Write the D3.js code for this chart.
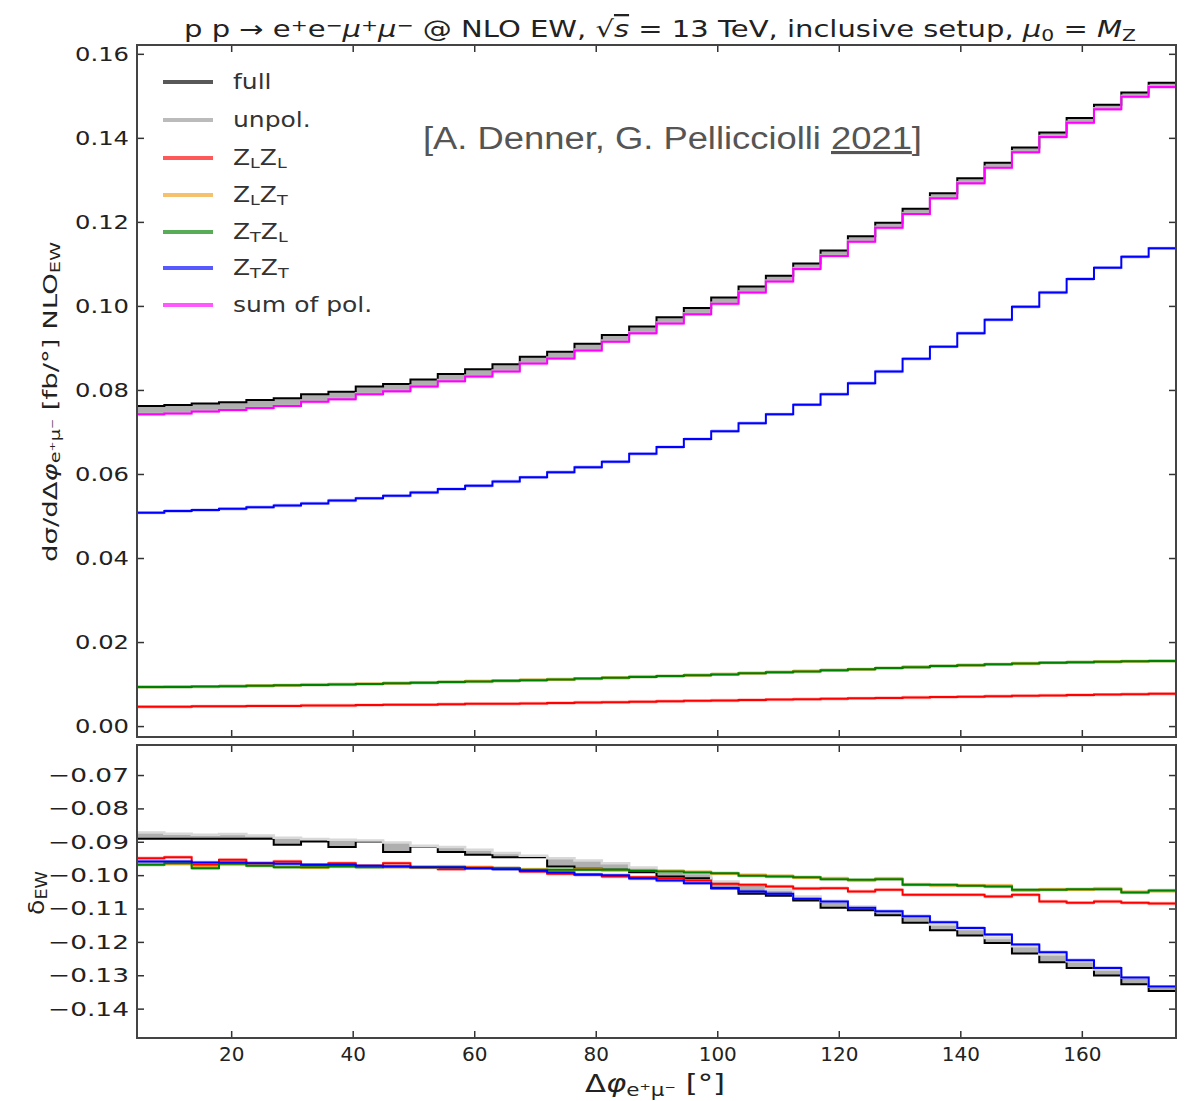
<!DOCTYPE html>
<html><head><meta charset="utf-8">
<script src="https://cdn.jsdelivr.net/npm/d3@7"></script>
<style>body{margin:0;background:#fff} svg{display:block}</style>
</head><body><svg id="c" width="1190" height="1101" font-family="DejaVu Sans, sans-serif"></svg>
<script>
// ---------- data ----------
const binEdges=[4.5,9,13.5,18,22.5,27,31.5,36,40.5,45,49.5,54,58.5,63,67.5,72,76.5,81,85.5,90,94.5,99,103.5,108,112.5,117,121.5,126,130.5,135,139.5,144,148.5,153,157.5,162,166.5,171,175.5];

const fullTop=[0.0762,0.0764,0.0768,0.0771,0.0776,0.0780,0.0790,0.0796,0.0808,0.0814,0.0825,0.0838,0.0849,0.0861,0.0879,0.0891,0.0910,0.0931,0.0951,0.0973,0.0995,0.1020,0.1046,0.1072,0.1101,0.1132,0.1166,0.1198,0.1231,0.1268,0.1304,0.1341,0.1377,0.1413,0.1447,0.1479,0.1508,0.1531];
const unpolTop=[0.0745,0.0747,0.0752,0.0755,0.0760,0.0765,0.0775,0.0781,0.0793,0.0800,0.0811,0.0824,0.0835,0.0847,0.0866,0.0878,0.0897,0.0918,0.0938,0.0961,0.0983,0.1008,0.1035,0.1061,0.1091,0.1122,0.1156,0.1189,0.1222,0.1259,0.1295,0.1332,0.1369,0.1405,0.1439,0.1471,0.1501,0.1524];
const sumTop=[0.0742,0.0744,0.0749,0.0752,0.0757,0.0762,0.0772,0.0778,0.0790,0.0797,0.0808,0.0821,0.0832,0.0844,0.0863,0.0875,0.0894,0.0915,0.0935,0.0958,0.0980,0.1005,0.1032,0.1058,0.1088,0.1119,0.1153,0.1186,0.1219,0.1256,0.1292,0.1329,0.1366,0.1402,0.1436,0.1468,0.1498,0.1521];
const zlzlTop=[0.0046,0.0046,0.0047,0.0047,0.0048,0.0048,0.0049,0.0049,0.0050,0.0051,0.0051,0.0052,0.0053,0.0053,0.0054,0.0055,0.0056,0.0057,0.0058,0.0059,0.0060,0.0061,0.0062,0.0063,0.0064,0.0065,0.0066,0.0067,0.0068,0.0069,0.0070,0.0071,0.0072,0.0073,0.0074,0.0075,0.0076,0.0077];
const zlztTop=[0.0093,0.0094,0.0094,0.0095,0.0096,0.0097,0.0099,0.0100,0.0101,0.0102,0.0104,0.0105,0.0107,0.0108,0.0110,0.0111,0.0113,0.0115,0.0118,0.0119,0.0121,0.0124,0.0126,0.0128,0.0131,0.0133,0.0135,0.0138,0.0141,0.0143,0.0145,0.0147,0.0149,0.0151,0.0152,0.0153,0.0154,0.0155];
const ztzlTop=[0.0093,0.0093,0.0094,0.0095,0.0096,0.0097,0.0098,0.0099,0.0100,0.0102,0.0103,0.0105,0.0106,0.0108,0.0109,0.0111,0.0113,0.0115,0.0117,0.0119,0.0121,0.0123,0.0126,0.0128,0.0130,0.0133,0.0135,0.0138,0.0140,0.0143,0.0145,0.0147,0.0149,0.0151,0.0152,0.0153,0.0154,0.0155];
const ztztTop=[0.0508,0.0512,0.0514,0.0517,0.0521,0.0525,0.0530,0.0537,0.0542,0.0548,0.0556,0.0564,0.0572,0.0582,0.0592,0.0604,0.0616,0.0629,0.0648,0.0664,0.0683,0.0702,0.0721,0.0742,0.0765,0.0790,0.0816,0.0844,0.0874,0.0903,0.0935,0.0967,0.0998,0.1032,0.1064,0.1091,0.1117,0.1137];

const fullLow=[-0.0891,-0.0891,-0.0891,-0.0891,-0.0891,-0.0909,-0.0899,-0.0916,-0.0899,-0.0931,-0.0914,-0.0931,-0.0939,-0.0946,-0.0946,-0.0974,-0.0981,-0.0984,-0.0991,-0.1004,-0.1009,-0.1039,-0.1056,-0.1062,-0.1076,-0.1098,-0.1105,-0.1120,-0.1143,-0.1165,-0.1181,-0.1203,-0.1235,-0.1261,-0.1278,-0.1301,-0.1327,-0.1347];
const unpolLow=[-0.0872,-0.0876,-0.0879,-0.0877,-0.0881,-0.0888,-0.0892,-0.0894,-0.0896,-0.0902,-0.0912,-0.0916,-0.0924,-0.0934,-0.0942,-0.0949,-0.0956,-0.0964,-0.0977,-0.0989,-0.0994,-0.1019,-0.1029,-0.1044,-0.1064,-0.1079,-0.1094,-0.1108,-0.1123,-0.1148,-0.1161,-0.1188,-0.1213,-0.1238,-0.1258,-0.1283,-0.1307,-0.1334];
const zlzlLow=[-0.0949,-0.0946,-0.0969,-0.0954,-0.0964,-0.0959,-0.0969,-0.0964,-0.0972,-0.0964,-0.0976,-0.0982,-0.0976,-0.0979,-0.0989,-0.0996,-0.0999,-0.1004,-0.1006,-0.1009,-0.1016,-0.1026,-0.1029,-0.1034,-0.1040,-0.1039,-0.1049,-0.1044,-0.1059,-0.1059,-0.1059,-0.1064,-0.1059,-0.1079,-0.1083,-0.1079,-0.1083,-0.1085];
const zlztLow=[-0.0966,-0.0967,-0.0975,-0.0968,-0.0970,-0.0974,-0.0978,-0.0972,-0.0975,-0.0976,-0.0978,-0.0974,-0.0977,-0.0981,-0.0982,-0.0986,-0.0982,-0.0986,-0.0985,-0.0987,-0.0990,-0.0996,-0.0999,-0.1002,-0.1008,-0.1009,-0.1016,-0.1010,-0.1027,-0.1031,-0.1030,-0.1031,-0.1046,-0.1042,-0.1044,-0.1040,-0.1050,-0.1048];
const ztzlLow=[-0.0969,-0.0964,-0.0979,-0.0966,-0.0972,-0.0976,-0.0976,-0.0974,-0.0976,-0.0974,-0.0976,-0.0976,-0.0979,-0.0979,-0.0984,-0.0984,-0.0984,-0.0984,-0.0987,-0.0989,-0.0992,-0.0994,-0.1002,-0.1004,-0.1006,-0.1012,-0.1014,-0.1012,-0.1029,-0.1029,-0.1032,-0.1034,-0.1044,-0.1044,-0.1042,-0.1042,-0.1052,-0.1046];
const ztztLow=[-0.0959,-0.0959,-0.0962,-0.0962,-0.0964,-0.0966,-0.0969,-0.0969,-0.0972,-0.0974,-0.0976,-0.0976,-0.0979,-0.0982,-0.0987,-0.0992,-0.0998,-0.1000,-0.1010,-0.1016,-0.1024,-0.1039,-0.1049,-0.1056,-0.1071,-0.1079,-0.1098,-0.1108,-0.1123,-0.1141,-0.1158,-0.1178,-0.1208,-0.1231,-0.1255,-0.1278,-0.1307,-0.1334];

const xTicks=[20,40,60,80,100,120,140,160];
const yTopTicks=[0.00,0.02,0.04,0.06,0.08,0.10,0.12,0.14,0.16];
const yLowTicks=[-0.14,-0.13,-0.12,-0.11,-0.10,-0.09,-0.08,-0.07];
const legendLabels=["full","unpol.","Z_LZ_L","Z_LZ_T","Z_TZ_L","Z_TZ_T","sum of pol."];
const seriesColors=["#000000","#b4b4b4","#ff0000","#f0a020","#008000","#0000ff","#ff00ff"];

// ---------- layout ----------
const L=137,R=1176,T1=45,B1=737,T2=745,B2=1038;
const svg=d3.select("#c");
const x=d3.scaleLinear().domain([4.5,175.5]).range([L,R]);
const yT=d3.scaleLinear().domain([-0.0026,0.1621]).range([B1,T1]);
const yB=d3.scaleLinear().domain([-0.1488,-0.0610]).range([B2,T2]);

function pts(vals){const p=vals.map((v,i)=>[binEdges[i],v]);p.push([binEdges[vals.length],vals[vals.length-1]]);return p;}
function stepLine(y){return d3.line().x(d=>x(d[0])).y(d=>y(d[1])).curve(d3.curveStepAfter);}
function stepArea(y,lo,hi){return d3.area().x(d=>x(d[0])).y0(d=>y(lo(d))).y1(d=>y(hi(d))).curve(d3.curveStepAfter);}

svg.append("defs").html(`<clipPath id="cp1"><rect x="${L}" y="${T1}" width="${R-L}" height="${B1-T1}"/></clipPath><clipPath id="cp2"><rect x="${L}" y="${T2}" width="${R-L}" height="${B2-T2}"/></clipPath>`);

function drawPanel(clip,y,series,bw){
  const g=svg.append("g").attr("clip-path",`url(#${clip})`);
  const f=series[0].vals,u=series[1].vals;
  const both=f.map((v,i)=>[binEdges[i],v,u[i]]);both.push([binEdges[f.length],f[f.length-1],u[u.length-1]]);
  g.append("path").attr("d",d3.area().x(d=>x(d[0])).y0(d=>y(d[1])).y1(d=>y(d[2])).curve(d3.curveStepAfter)(both))
    .attr("fill","#7a7a7a").attr("opacity",0.6);
  series.slice(2).forEach(s=>{
    g.append("path").attr("d",stepArea(y,d=>d[1]-bw,d=>d[1]+bw)(pts(s.vals)))
      .attr("fill",s.color).attr("opacity",0.28);
  });
  series.forEach(s=>{
    g.append("path").attr("d",stepLine(y)(pts(s.vals))).attr("fill","none")
      .attr("stroke",s.color).attr("stroke-width",s.w||2);
  });
}

drawPanel("cp1",yT,[
  {vals:fullTop,color:seriesColors[0],w:2},
  {vals:unpolTop,color:seriesColors[1],w:2},
  {vals:zlzlTop,color:seriesColors[2]},
  {vals:zlztTop,color:seriesColors[3]},
  {vals:ztzlTop,color:seriesColors[4]},
  {vals:ztztTop,color:seriesColors[5]},
  {vals:sumTop,color:seriesColors[6]}
],0.0004);

drawPanel("cp2",yB,[
  {vals:fullLow,color:seriesColors[0],w:2},
  {vals:unpolLow,color:"#d8d8d8",w:2.5},
  {vals:zlzlLow,color:seriesColors[2]},
  {vals:zlztLow,color:seriesColors[3]},
  {vals:ztzlLow,color:seriesColors[4]},
  {vals:ztztLow,color:seriesColors[5]}
],0.0005);

// ---------- axes ----------
function styleAxis(g){g.select(".domain").remove();g.selectAll("line").attr("stroke","#333").attr("stroke-width",1.5);g.selectAll("text").attr("font-family","DejaVu Sans").attr("font-size",20).attr("fill","#222");}
function stretch(len){return g=>g.selectAll("text").attr("textLength",len).attr("lengthAdjust","spacingAndGlyphs");}
const tk=-7;
svg.append("g").attr("transform",`translate(${L},0)`).call(d3.axisLeft(yT).tickValues(yTopTicks).tickSize(tk).tickPadding(8).tickFormat(d3.format(".2f"))).call(styleAxis).call(stretch(54));
svg.append("g").attr("transform",`translate(${R},0)`).call(d3.axisRight(yT).tickValues(yTopTicks).tickSize(tk).tickFormat("")).call(styleAxis);
svg.append("g").attr("transform",`translate(0,${T1})`).call(d3.axisTop(x).tickValues(xTicks).tickSize(tk).tickFormat("")).call(styleAxis);
svg.append("g").attr("transform",`translate(0,${B1})`).call(d3.axisBottom(x).tickValues(xTicks).tickSize(tk).tickFormat("")).call(styleAxis);

svg.append("g").attr("transform",`translate(${L},0)`).call(d3.axisLeft(yB).tickValues(yLowTicks).tickSize(tk).tickPadding(8).tickFormat(d3.format(".2f"))).call(styleAxis).call(stretch(81));
svg.append("g").attr("transform",`translate(${R},0)`).call(d3.axisRight(yB).tickValues(yLowTicks).tickSize(tk).tickFormat("")).call(styleAxis);
svg.append("g").attr("transform",`translate(0,${T2})`).call(d3.axisTop(x).tickValues(xTicks).tickSize(tk).tickFormat("")).call(styleAxis);
svg.append("g").attr("transform",`translate(0,${B2})`).call(d3.axisBottom(x).tickValues(xTicks).tickSize(tk).tickPadding(9).tickFormat(d3.format("d"))).call(styleAxis);

// frames
svg.append("rect").attr("x",L).attr("y",T1).attr("width",R-L).attr("height",B1-T1).attr("fill","none").attr("stroke","#444").attr("stroke-width",2);
svg.append("rect").attr("x",L).attr("y",T2).attr("width",R-L).attr("height",B2-T2).attr("fill","none").attr("stroke","#444").attr("stroke-width",2);

// ---------- rich text helper ----------
function rich(t,parts,size){
  parts.forEach(p=>{
    const ts=t.append("tspan").text(p.t);
    if(p.sub){ts.attr("font-size",size*0.7).attr("baseline-shift","-22%");}
    if(p.sup){ts.attr("font-size",size*0.7).attr("baseline-shift","38%");}
    if(p.it) ts.attr("font-style","italic");
    if(p.ol) ts.attr("text-decoration","overline");
  });
  return t;
}

// title
const title=svg.append("text").attr("x",660).attr("y",37).attr("text-anchor","middle").attr("font-size",23).attr("fill","#222");
rich(title,[{t:"p p → e"},{t:"+",sup:1},{t:"e"},{t:"−",sup:1},{t:"μ",it:1},{t:"+",sup:1},{t:"μ",it:1},{t:"−",sup:1},
  {t:"  @ NLO EW, √"},{t:"s",it:1,ol:1},{t:" = 13 TeV, inclusive setup, "},{t:"μ",it:1},{t:"0",sub:1},{t:" = "},{t:"M",it:1},{t:"Z",sub:1}],23);
title.attr("textLength",952).attr("lengthAdjust","spacingAndGlyphs");

// legend
const legY=[82,120,158,195,232,268,305];
legendLabels.forEach((lab,i)=>{
  svg.append("line").attr("x1",163).attr("x2",213).attr("y1",legY[i]).attr("y2",legY[i])
    .attr("stroke",seriesColors[i]).attr("stroke-width",4).attr("opacity",i===1?0.9:0.65);
  const t=svg.append("text").attr("x",233).attr("y",legY[i]+7).attr("font-size",21).attr("fill","#333");
  const parts=[];
  lab.split(/(_[A-Z])/).filter(s=>s.length).forEach(s=>{ if(s[0]==="_") parts.push({t:s.slice(1),sub:1}); else parts.push({t:s}); });
  rich(t,parts,21);
  const w=t.node().getComputedTextLength();
  t.attr("textLength",w*1.19).attr("lengthAdjust","spacingAndGlyphs");
});

// credit
const cr=svg.append("text").attr("x",423).attr("y",149).style("font-family","'Liberation Sans', Arial, sans-serif").attr("font-size",31).attr("fill","#555")
  .attr("textLength",499).attr("lengthAdjust","spacingAndGlyphs");
cr.append("tspan").text("[A. Denner, G. Pellicciolli ");
cr.append("tspan").text("2021").attr("text-decoration","underline");
cr.append("tspan").text("]");

// y labels
const yl=svg.append("text").attr("transform","translate(57,402) rotate(-90)").attr("text-anchor","middle").attr("font-size",20).attr("fill","#222");
rich(yl,[{t:"dσ/dΔ"},{t:"φ",it:1},{t:"e⁺μ⁻",sub:1},{t:"  [fb/°] NLO"},{t:"EW",sub:1}],20);
yl.attr("textLength",320).attr("lengthAdjust","spacingAndGlyphs");
const yl2=svg.append("text").attr("transform","translate(44,893) rotate(-90)").attr("text-anchor","middle").attr("font-size",22).attr("fill","#222");
rich(yl2,[{t:"δ"},{t:"EW",sub:1}],22);
yl2.attr("textLength",44).attr("lengthAdjust","spacingAndGlyphs");

// x label
const xl=svg.append("text").attr("x",655).attr("y",1092).attr("text-anchor","middle").attr("font-size",24).attr("fill","#222");
rich(xl,[{t:"Δ"},{t:"φ",it:1},{t:"e⁺μ⁻",sub:1},{t:" [°]"}],24);
xl.attr("textLength",140).attr("lengthAdjust","spacingAndGlyphs");
</script></body></html>
